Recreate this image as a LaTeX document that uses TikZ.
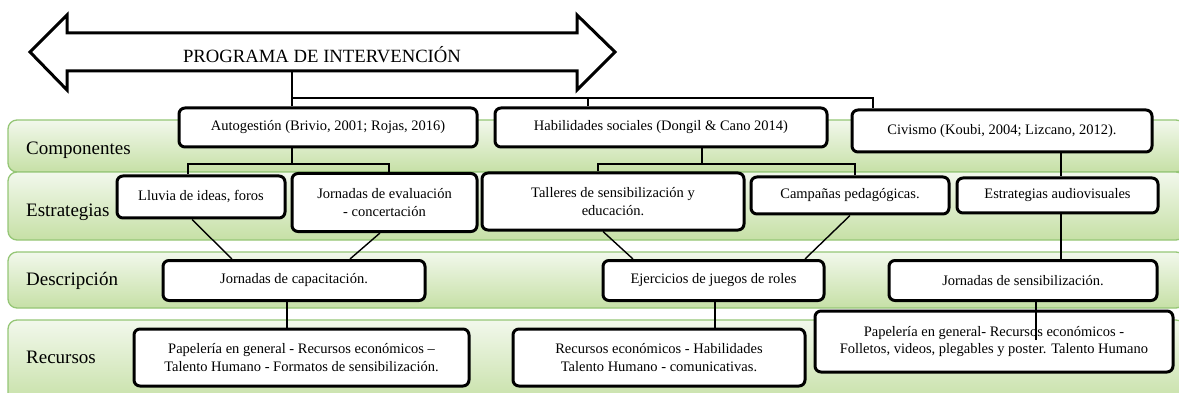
\documentclass[tikz,border=0pt]{standalone}
\usepackage{fontspec}
\setmainfont{Liberation Serif}
\usetikzlibrary{calc}
\definecolor{bandtop}{HTML}{F2F8EC}
\definecolor{bandbot}{HTML}{C6E0A6}
\definecolor{bandline}{HTML}{95C676}
\tikzset{
  band/.style={draw=bandline, line width=1.3pt, rounded corners=9pt, top color=bandtop, bottom color=bandbot},
  rowlabel/.style={anchor=west, inner sep=0pt, font=\fontsize{19}{22}\selectfont},
  box/.style={draw, line width=3pt, rounded corners=6pt, fill=white, align=center, inner sep=0pt, font=\fontsize{14.5}{17.5}\selectfont},
  link/.style={line width=1.4pt},
}

\begin{document}
\begin{tikzpicture}[x=1pt,y=-1pt]
    \useasboundingbox (0,0) rectangle (1179,393);
    % bands
    \draw[band] (8,120) rectangle (1185,172);
    \draw[band] (8,172) rectangle (1185,240);
    \draw[band] (8,252) rectangle (1185,308);
    \draw[band] (8,320) rectangle (1185,405);
    \node[rowlabel] (lcomp) at (26,150) {Componentes};
    \node[rowlabel] (lestr) at (26,212) {Estrategias};
    \node[rowlabel] (ldesc) at (26,281) {Descripción};
    \node[rowlabel] (lrecu) at (26,357) {Recursos};

    % double arrow
    \draw[line width=3pt, fill=white] (30,52) -- (67,15) -- (67,33) -- (577,33) -- (577,15)
      -- (615,52) -- (577,90) -- (577,71) -- (67,71) -- (67,90) -- cycle;
    \node[font=\fontsize{18.7}{22}\selectfont] (prog) at (322,55) {PROGRAMA DE INTERVENCIÓN};
    \coordinate (progbot) at (292,71);

    % componentes
    \node[box, minimum width=298pt, minimum height=39pt] (A1) at (328,127.5) {Autogestión (Brivio, 2001; Rojas, 2016)};
    \node[box, minimum width=332pt, minimum height=39pt] (A2) at (661,127.5) {Habilidades sociales (Dongil \& Cano 2014)};
    \node[box, minimum width=300pt, minimum height=42pt] (A3) at (1002,131) {Civismo (Koubi, 2004; Lizcano, 2012).};

    % estrategias
    \node[box, minimum width=168pt, minimum height=42pt] (S1) at (201,197) {Lluvia de ideas, foros};
    \node[box, minimum width=185pt, minimum height=58pt] (S2) at (384.5,202.5) {Jornadas de evaluación\\- concertación};
    \node[box, minimum width=262pt, minimum height=57pt] (S3) at (613,201.5) {Talleres de sensibilización y\\educación.};
    \node[box, minimum width=198pt, minimum height=37pt] (S4) at (850,195.5) {Campañas pedagógicas.};
    \node[box, minimum width=201pt, minimum height=35pt] (S5) at (1057.5,195.5) {Estrategias audiovisuales};

    % descripcion
    \node[box, minimum width=262pt, minimum height=40pt] (D1) at (294,280.5) {Jornadas de capacitación.};
    \node[box, minimum width=221pt, minimum height=40pt] (D2) at (713.5,280.5) {Ejercicios de juegos de roles};
    \node[box, minimum width=268pt, minimum height=40pt] (D3) at (1023,280.5) {Jornadas de sensibilización.};

    % recursos
    \node[box, minimum width=335pt, minimum height=57pt] (R1) at (301.5,357.5) {Papelería en general - Recursos económicos –\\Talento Humano - Formatos de sensibilización.};
    \node[box, minimum width=292pt, minimum height=57pt] (R2) at (659,357.5) {Recursos económicos - Habilidades\\Talento Humano - comunicativas.};
    \node[box, minimum width=358pt, minimum height=61pt] (R3) at (994,341.5) {Papelería en general- Recursos económicos -\\Folletos, videos, plegables y poster. Talento Humano};

    % links from the program
    \coordinate (hub) at (292,98);
    \coordinate (c2) at (588,98);
    \coordinate (c3) at (873,98);
    \draw[link] (progbot) -- (progbot |- A1.north);
    \draw[link] (hub) -- (c3) -- (c3 |- A3.north);
    \draw[link] (c2) -- (c2 |- A2.north);

    % links to estrategias
    \coordinate (k1) at (292,164);
    \coordinate (k1a) at (188,164);
    \coordinate (k1b) at (389,164);
    \draw[link] (k1 |- A1.south) -- (k1);
    \draw[link] (k1a |- S1.north) -- (k1a) -- (k1b) -- (k1b |- S2.north);
    \coordinate (k2) at (702,164);
    \coordinate (k2a) at (598,164);
    \coordinate (k2b) at (855,164);
    \draw[link] (k2 |- A2.south) -- (k2);
    \draw[link] (k2a |- S3.north) -- (k2a) -- (k2b) -- (k2b |- S4.north);
    \coordinate (k3) at (1061,200);
    \draw[link] (k3 |- A3.south) -- (k3 |- S5.north);
    \draw[link] (k3 |- S5.south) -- (k3 |- D3.north);

    % links to descripcion
    \draw[link] ($(S1.south)+(-9,0)$) -- ($(D1.north)+(-62,0)$);
    \draw[link] ($(S2.south)+(-4.5,0)$) -- ($(D1.north)+(56,0)$);
    \draw[link] ($(S3.south)+(-10,0)$) -- ($(D2.north)+(-80.5,0)$);
    \draw[link] (S4.south) -- ($(D2.north)+(91.5,0)$);

    % links to recursos
    \coordinate (k4) at (287,315);
    \coordinate (k5) at (715,315);
    \coordinate (k6) at (1036,340);
    \draw[link] (k4 |- D1.south) -- (k4 |- R1.north);
    \draw[link] (k5 |- D2.south) -- (k5 |- R2.north);
    \draw[link] (k6 |- D3.south) -- (k6);
\end{tikzpicture}
\end{document}
